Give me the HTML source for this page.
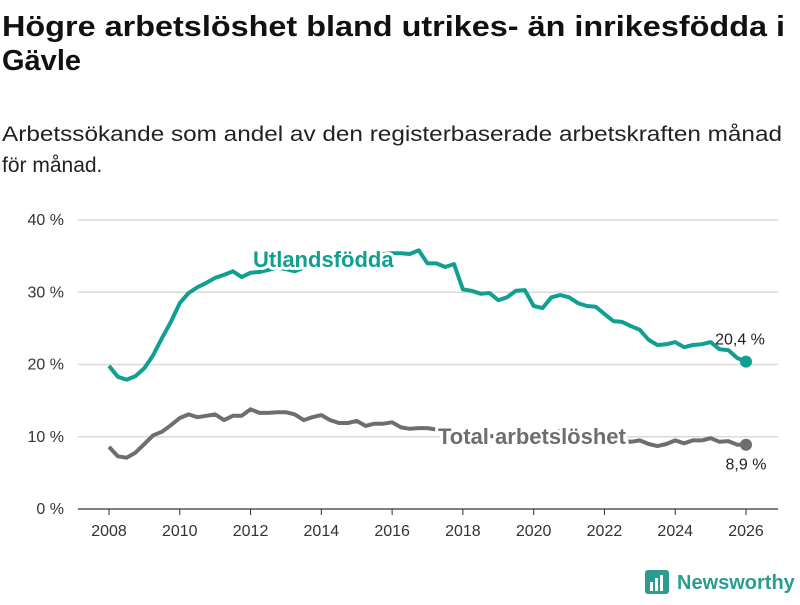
<!DOCTYPE html>
<html><head><meta charset="utf-8"><style>
body{margin:0;background:#fff;font-family:"Liberation Sans",sans-serif}
</style></head><body>
<svg id="chart" width="800" height="600" xmlns="http://www.w3.org/2000/svg" font-family="Liberation Sans, sans-serif">
<text x="2" y="36" font-size="29" font-weight="bold" fill="#111" textLength="783" lengthAdjust="spacingAndGlyphs">Högre arbetslöshet bland utrikes- än inrikesfödda i</text>
<text x="2" y="70" font-size="29" font-weight="bold" fill="#111">Gävle</text>
<text x="2" y="141" font-size="21" fill="#222" textLength="780" lengthAdjust="spacingAndGlyphs">Arbetssökande som andel av den registerbaserade arbetskraften månad</text>
<text x="2" y="172" font-size="21" fill="#222">för månad.</text>
<g id="grid"></g>
<g id="yticks"></g>
<g id="xticks"></g>
<g id="series"></g>
<g>
<rect x="645" y="570" width="24" height="24" rx="3" fill="#2a9d8f"/>
<rect x="650" y="582" width="3" height="9" fill="#fff"/><rect x="655" y="578" width="3" height="13" fill="#fff"/><rect x="660" y="575" width="3" height="16" fill="#fff"/>
<text x="677" y="589" font-size="20" font-weight="bold" fill="#2a9d8f">Newsworthy</text>
</g>
</svg>
<script>
const startYear = 2008;
const stepYears = 0.25;
const utlandsfodda = [19.8,18.3,17.9,18.4,19.5,21.3,23.7,25.9,28.5,29.9,30.7,31.3,32.0,32.4,32.9,32.1,32.7,32.8,33.1,33.4,33.2,32.9,33.4,33.8,34.2,34.5,34.7,34.9,35.0,35.1,35.2,35.3,35.4,35.4,35.3,35.8,34.0,34.0,33.5,33.9,30.4,30.2,29.8,29.9,28.9,29.3,30.2,30.3,28.1,27.8,29.3,29.6,29.3,28.5,28.1,28.0,27.0,26.0,25.9,25.3,24.8,23.4,22.7,22.8,23.1,22.4,22.7,22.8,23.1,22.1,22.0,20.9,20.4];
const total = [8.6,7.3,7.1,7.8,9.0,10.2,10.7,11.6,12.6,13.1,12.7,12.9,13.1,12.3,12.9,12.9,13.8,13.3,13.3,13.4,13.4,13.1,12.3,12.7,13.0,12.3,11.9,11.9,12.2,11.5,11.8,11.8,12.0,11.3,11.1,11.2,11.2,11.0,10.9,10.7,10.5,10.3,10.2,10.1,10.0,9.9,9.8,9.7,9.8,10.3,10.6,10.8,10.6,10.3,10.0,9.8,9.6,9.5,9.4,9.3,9.5,9.0,8.7,9.0,9.5,9.1,9.5,9.5,9.8,9.3,9.4,8.9,8.9];
const yTicks = [0,10,20,30,40];
const yTickLabels = ["0 %","10 %","20 %","30 %","40 %"];
const xTicks = [2008,2010,2012,2014,2016,2018,2020,2022,2024,2026];
const endLabels = ["20,4 %","8,9 %"];

const NS="http://www.w3.org/2000/svg";
const x = yr => 109 + (yr-2008)*(746-109)/18;
const y = v => 509 - v*(509-220)/40;
function mk(tag, attrs, parent){const e=document.createElementNS(NS,tag);for(const k in attrs)e.setAttribute(k,attrs[k]);parent.appendChild(e);return e;}
const grid=document.getElementById('grid'), yt=document.getElementById('yticks'), xt=document.getElementById('xticks'), ser=document.getElementById('series');
yTicks.forEach((t,i)=>{
  const l=mk('line',{x1:78,x2:778,y1:y(t),y2:y(t),stroke:t===0?'#333':'#d9d9d9','stroke-width':t===0?1.2:1.5},grid);
  
  
  const tx=mk('text',{x:64,y:y(t)+5,'font-size':16,'text-anchor':'end',fill:'#333'},yt);
  tx.textContent=yTickLabels[i];
  
  
});
xTicks.forEach(t=>{
  const l=mk('line',{x1:x(t),x2:x(t),y1:509,y2:515,stroke:'#333'},xt);
  
  
  const tx=mk('text',{x:x(t),y:536,'font-size':16,'text-anchor':'middle',fill:'#333'},xt);
  tx.textContent=t;
  
  
});
function drawSeries(vals,color,name){
  const d=vals.map((v,i)=>(i?'L':'M')+x(startYear+i*stepYears).toFixed(1)+','+y(v).toFixed(1)).join('');
  const p=mk('path',{d:d,fill:'none',stroke:color,'stroke-width':4,'stroke-linejoin':'round'},ser);
  
  
  const n=vals.length-1;
  const c=mk('circle',{cx:x(startYear+n*stepYears),cy:y(vals[n]),r:6,fill:color},ser);
  
  
}
drawSeries(utlandsfodda,'#119f92','utlandsfodda');
drawSeries(total,'#6e6e70','total');
const n=utlandsfodda.length-1, xe=x(startYear+n*stepYears);
const l1=mk('text',{x:xe-6,y:y(utlandsfodda[n])-17,'font-size':16,'text-anchor':'middle',fill:'#222'},ser);
l1.textContent=endLabels[0];


const l2=mk('text',{x:xe,y:y(total[n])+25,'font-size':16,'text-anchor':'middle',fill:'#222'},ser);
l2.textContent=endLabels[1];


const s1=mk('text',{x:253,y:267,'font-size':22,'font-weight':'bold',fill:'#119f92',stroke:'#fff','stroke-width':6,'paint-order':'stroke','stroke-linejoin':'round'},ser);
s1.textContent='Utlandsfödda';


const s2=mk('text',{x:438,y:444,'font-size':22,'font-weight':'bold',fill:'#6e6e70',stroke:'#fff','stroke-width':6,'paint-order':'stroke','stroke-linejoin':'round'},ser);
s2.textContent='Total arbetslöshet';


</script>
</body></html>
